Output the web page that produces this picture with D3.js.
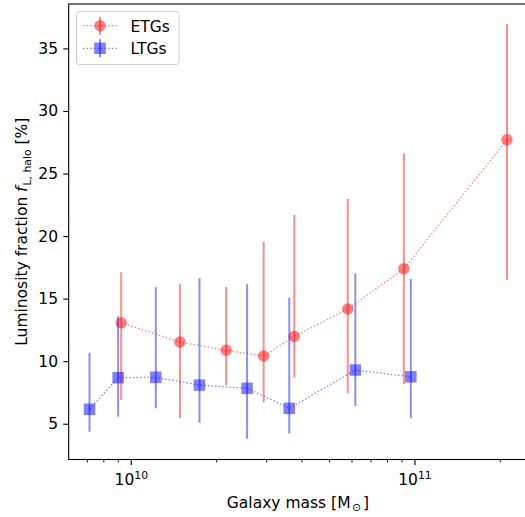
<!DOCTYPE html>
<html>
<head>
<meta charset="utf-8">
<script src="https://cdn.jsdelivr.net/npm/d3@7"></script>
<style>
  html, body { margin: 0; padding: 0; background: #fff; }
  svg { display: block; font-family: "DejaVu Sans", sans-serif; }
</style>
</head>
<body>
<svg id="chart" width="525" height="517"></svg>
<script>
// Early-type galaxies: mass, halo luminosity fraction and its error range
const etgMass = [9.25e9, 1.49e10, 2.17e10, 2.94e10, 3.77e10, 5.82e10, 9.18e10, 2.12e11];
const etgFrac = [13.07, 11.53, 10.87, 10.41, 11.98, 14.17, 17.39, 27.7];
const etgLow  = [6.9, 5.43, 8.09, 6.71, 8.68, 7.43, 8.15, 16.49];
const etgHigh = [17.1, 16.19, 15.93, 19.52, 21.68, 22.96, 26.6, 36.95];

// Late-type galaxies
const ltgMass = [7.15e9, 9.02e9, 1.225e10, 1.746e10, 2.57e10, 3.62e10, 6.19e10, 9.71e10];
const ltgFrac = [6.15, 8.68, 8.71, 8.09, 7.83, 6.23, 9.29, 8.75];
const ltgLow  = [4.36, 5.56, 6.23, 5.08, 3.8, 4.22, 6.41, 5.43];
const ltgHigh = [10.67, 13.6, 15.9, 16.62, 16.15, 15.07, 17.02, 16.57];

const seriesNames = ["ETGs", "LTGs"];
const yTicks = [5, 10, 15, 20, 25, 30, 35];
const xMajorTicks = [1e10, 1e11];
const xMinorTicks = [7e9, 8e9, 9e9, 2e10, 3e10, 4e10, 5e10, 6e10, 7e10, 8e10, 9e10, 2e11, 3e11];

(function drawChart() {
  const svg = d3.select("#chart");
  const pLeft = 68.7, pRight = 527.3, pTop = 4, pBottom = 459.5;

  const x = d3.scaleLog().domain([6.04e9, 2.5e11]).range([pLeft, pRight]);
  const y = d3.scaleLinear().domain([2.14, 38.55]).range([pBottom, pTop]);

  const series = [
    { name: seriesNames[0], mass: etgMass, frac: etgFrac, low: etgLow, high: etgHigh, color: "red", shape: "circle" },
    { name: seriesNames[1], mass: ltgMass, frac: ltgFrac, low: ltgLow, high: ltgHigh, color: "blue", shape: "square" }
  ];

  svg.append("clipPath").attr("id", "plotclip").append("rect")
    .attr("x", pLeft).attr("y", pTop).attr("width", pRight - pLeft).attr("height", pBottom - pTop);
  const plot = svg.append("g").attr("clip-path", "url(#plotclip)");

  const markerSize = 11.5;

  series.forEach(s => {
    const pts = s.mass.map((m, i) => ({ m, v: s.frac[i], lo: s.low[i], hi: s.high[i] }));
    const g = plot.append("g");

    // dotted connecting line
    g.append("path")
      .datum(pts)
      .attr("d", d3.line().x(d => x(d.m)).y(d => y(d.v)))
      .attr("fill", "none")
      .attr("stroke", s.color)
      .attr("stroke-opacity", 0.5)
      .attr("stroke-width", 1.3)
      .attr("stroke-dasharray", "1.4,2.2");

    // vertical error bars
    g.selectAll("line.err").data(pts).join("line")
      .attr("class", "err")
      .attr("x1", d => x(d.m)).attr("x2", d => x(d.m))
      .attr("y1", d => y(d.lo)).attr("y2", d => y(d.hi))
      .attr("stroke", s.color)
      .attr("stroke-opacity", 0.45)
      .attr("stroke-width", 2);

    // markers
    if (s.shape === "circle") {
      g.selectAll("circle.mk").data(pts).join("circle")
        .attr("class", "mk")
        .attr("cx", d => x(d.m)).attr("cy", d => y(d.v))
        .attr("r", markerSize / 2)
        .attr("fill", s.color).attr("fill-opacity", 0.5);
    } else {
      g.selectAll("rect.mk").data(pts).join("rect")
        .attr("class", "mk")
        .attr("x", d => x(d.m) - markerSize / 2).attr("y", d => y(d.v) - markerSize / 2)
        .attr("width", markerSize).attr("height", markerSize)
        .attr("fill", s.color).attr("fill-opacity", 0.5);
    }
  });

  // Axes
  const axisColor = "#000";
  const fontSize = 15.5;
  const smallSize = 10.8;

  const yAxis = svg.append("g")
    .attr("transform", `translate(${pLeft},0)`)
    .call(d3.axisLeft(y).tickValues(yTicks).tickSize(5.4).tickPadding(5.2).tickFormat(d3.format("d")));
  yAxis.select(".domain").remove();
  yAxis.selectAll("text").attr("font-size", fontSize).attr("fill", "#000").attr("font-family", "DejaVu Sans");
  yAxis.selectAll("line").attr("stroke", axisColor).attr("stroke-width", 1.1);

  const xMinor = svg.append("g")
    .attr("transform", `translate(0,${pBottom})`)
    .call(d3.axisBottom(x).tickValues(xMinorTicks).tickSize(3).tickFormat(""));
  xMinor.select(".domain").remove();
  xMinor.selectAll("line").attr("stroke", axisColor).attr("stroke-width", 0.9);

  const xAxis = svg.append("g")
    .attr("transform", `translate(0,${pBottom})`)
    .call(d3.axisBottom(x).tickValues(xMajorTicks).tickSize(5.4).tickPadding(4).tickFormat(""));
  xAxis.select(".domain").remove();
  xAxis.selectAll("line").attr("stroke", axisColor).attr("stroke-width", 1.1);
  xAxis.selectAll(".tick").each(function(d) {
    const exp = Math.round(Math.log10(d));
    const t = d3.select(this).append("text")
      .attr("y", 25.8)
      .attr("fill", "#000")
      .attr("font-size", fontSize)
      .attr("font-family", "DejaVu Sans")
      .attr("text-anchor", "middle");
    t.append("tspan").text("10");
    t.append("tspan").attr("font-size", smallSize).attr("dy", -6.5).text(exp);
  });

  // Spines
  svg.append("rect")
    .attr("x", pLeft).attr("y", pTop)
    .attr("width", pRight - pLeft).attr("height", pBottom - pTop)
    .attr("fill", "none").attr("stroke", "#000").attr("stroke-width", 1.1);

  // Axis labels
  svg.append("text")
    .attr("x", (pLeft + pRight) / 2).attr("y", 507.5)
    .attr("text-anchor", "middle").attr("font-size", fontSize).attr("fill", "#000")
    .call(t => {
      t.append("tspan").text("Galaxy mass [M");
      t.append("tspan").attr("font-size", smallSize).attr("dx", 1.5).attr("dy", 3.5).text("\u2299");
      t.append("tspan").attr("dx", 2).attr("dy", -3.5).text("]");
    });

  svg.append("text")
    .attr("transform", `translate(27,${(pTop + pBottom) / 2}) rotate(-90)`)
    .attr("text-anchor", "middle").attr("font-size", fontSize).attr("fill", "#000")
    .call(t => {
      t.append("tspan").text("Luminosity fraction ");
      t.append("tspan").attr("font-style", "italic").text("f");
      t.append("tspan").attr("font-size", smallSize).attr("dx", 1).attr("dy", 3.5).text("L, halo");
      t.append("tspan").attr("dy", -3.5).text(" [%]");
    });

  // Legend
  const legend = svg.append("g");
  legend.append("rect")
    .attr("x", 76.5).attr("y", 11.5).attr("width", 102.5).attr("height", 53)
    .attr("rx", 3).attr("fill", "#fff").attr("fill-opacity", 0.8)
    .attr("stroke", "#ccc").attr("stroke-width", 1);

  series.forEach((s, i) => {
    const cy = 25.7 + i * 22.6;
    const lg = legend.append("g");
    lg.append("line")
      .attr("x1", 83).attr("x2", 117).attr("y1", cy).attr("y2", cy)
      .attr("stroke", s.color).attr("stroke-opacity", 0.5)
      .attr("stroke-width", 1.3).attr("stroke-dasharray", "1.4,2.2");
    lg.append("line")
      .attr("x1", 100).attr("x2", 100).attr("y1", cy - 9).attr("y2", cy + 9)
      .attr("stroke", s.color).attr("stroke-opacity", 0.45).attr("stroke-width", 2);
    if (s.shape === "circle") {
      lg.append("circle").attr("cx", 100).attr("cy", cy).attr("r", markerSize / 2)
        .attr("fill", s.color).attr("fill-opacity", 0.5);
    } else {
      lg.append("rect").attr("x", 100 - markerSize / 2).attr("y", cy - markerSize / 2)
        .attr("width", markerSize).attr("height", markerSize)
        .attr("fill", s.color).attr("fill-opacity", 0.5);
    }
    lg.append("text").attr("x", 130.5).attr("y", cy + 6)
      .attr("font-size", fontSize).attr("fill", "#000").text(s.name);
  });
})();
</script>
</body>
</html>
